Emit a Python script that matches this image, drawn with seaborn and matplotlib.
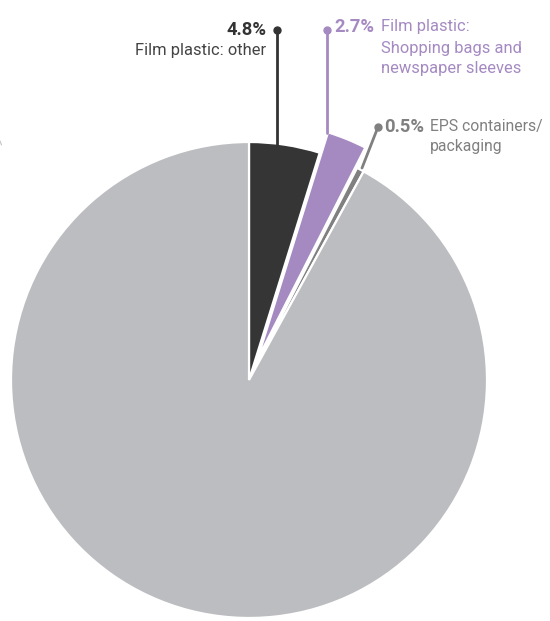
import matplotlib
matplotlib.use("Agg")
import matplotlib.pyplot as plt
import seaborn as sns

# Data
labels = ["Film plastic: other",
          "Film plastic:\nShopping bags and\nnewspaper sleeves",
          "EPS containers/\npackaging",
          "Other"]
pct_labels = ["4.8%", "2.7%", "0.5%", ""]
values = [4.8, 2.7, 0.5, 92.0]
colors = ["#353535", "#a58ac2", "#808080", "#bcbdc0"]
text_colors = ["#333333", "#a58ac2", "#808080"]

sns.set_style("white")
plt.rcParams["font.family"] = ["Roboto", "DejaVu Sans"]

fig = plt.figure(figsize=(5.5, 6.21), dpi=100)
ax = fig.add_axes([0, 0, 1, 1])

H = 621
cx, cy, R = 249, H - 380, 238
explode = [0, 22, 0, 0]  # data units (pixels)
ax.pie(values, colors=colors, startangle=90, counterclock=False,
       explode=explode, radius=R, center=(cx, cy),
       wedgeprops=dict(edgecolor="white", linewidth=1.6))
ax.set_xlim(0, 550)
ax.set_ylim(0, H)
ax.set_aspect("equal")
ax.axis("off")

fs = 11.9
fsb = 13.2
# 4.8% label
ax.plot([277, 277], [H - 30, H - 145], color=text_colors[0], lw=2, zorder=5)
ax.plot([277], [H - 30], "o", color=text_colors[0], ms=5, zorder=6)
ax.text(266, H - 30, pct_labels[0], color=text_colors[0], fontsize=fsb,
        fontweight="bold", ha="right", va="center")
ax.text(266, H - 50, labels[0], color="#444444", fontsize=fs,
        ha="right", va="center")

# 2.7% label
ax.plot([327, 327], [H - 30, H - 133], color=text_colors[1], lw=2, zorder=5)
ax.plot([327], [H - 30], "o", color=text_colors[1], ms=5, zorder=6)
ax.text(334, H - 27, pct_labels[1], color=text_colors[1], fontsize=fsb,
        fontweight="bold", ha="left", va="center")
for i, line in enumerate(labels[1].split("\n")):
    ax.text(381, H - 27 - 21 * i, line, color=text_colors[1], fontsize=fs,
            ha="left", va="center")

# 0.5% label
ax.plot([378, 362], [H - 127, H - 168], color=text_colors[2], lw=2, zorder=5)
ax.plot([378], [H - 127], "o", color=text_colors[2], ms=5, zorder=6)
ax.text(384, H - 127, pct_labels[2], color=text_colors[2], fontsize=fsb,
        fontweight="bold", ha="left", va="center")
for i, line in enumerate(labels[2].split("\n")):
    ax.text(430, H - 127 - 19 * i, line, color=text_colors[2],
            fontsize=fs - 0.6, ha="left", va="center")

# small cropped mark at the left edge
ax.plot([0, 1.5], [H - 141, H - 145], color="#c4c4c4", lw=0.8)

fig.savefig("out.png", dpi=100, facecolor="white")
